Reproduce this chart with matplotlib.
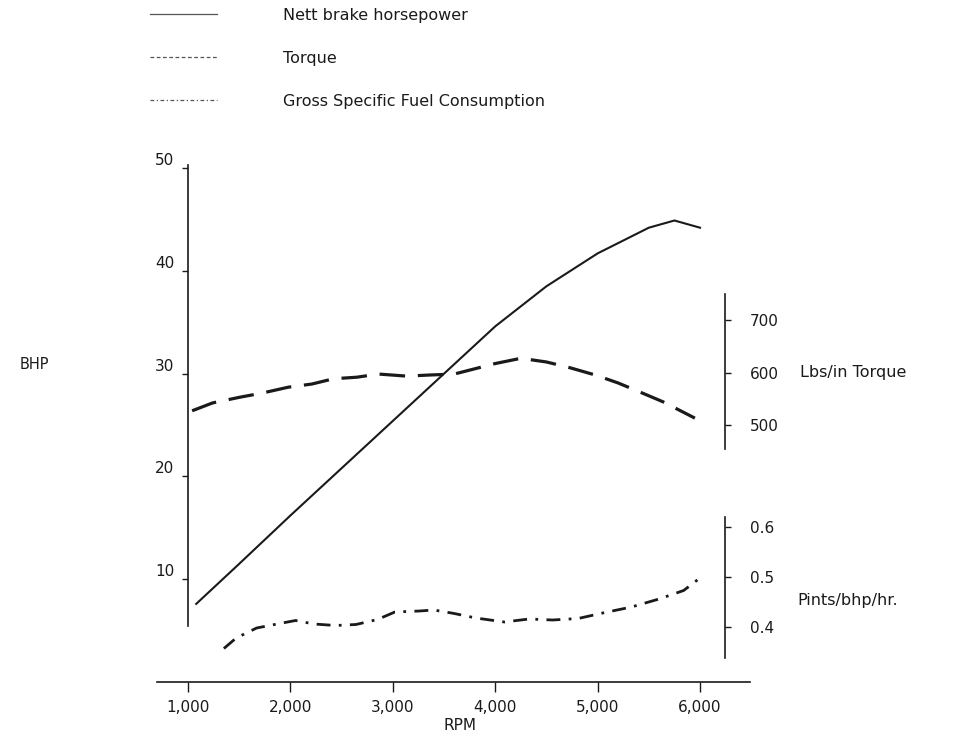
import numpy as np
import matplotlib
matplotlib.use('Agg')
import matplotlib.pyplot as plt
from matplotlib.lines import Line2D

rpm_bhp = [1080, 1500, 2000, 2500, 3000, 3500, 4000, 4500, 5000, 5500, 5750, 6000]
bhp = [7.6, 11.5, 16.2, 20.8, 25.4, 30.0, 34.6, 38.5, 41.7, 44.2, 44.9, 44.2]

rpm_torque = [1040, 1240, 1510, 1730, 1980, 2210, 2420, 2650, 2860, 3140, 3340, 3600, 3800,
              4000, 4250, 4500, 4730, 4980, 5200, 5410, 5640, 5850, 5950]
torque = [528, 543, 554, 562, 573, 579, 589, 592, 598, 594, 596, 598, 608,
          618, 628, 621, 610, 596, 581, 564, 545, 524, 514]

rpm_fuel = [1350, 1470, 1670, 1920, 2050, 2230, 2440, 2640, 2850, 3020, 3260, 3400, 3600,
            3810, 4090, 4330, 4560, 4810, 5050, 5330, 5600, 5840, 5980]
fuel = [0.357, 0.378, 0.398, 0.408, 0.413, 0.406, 0.403, 0.405, 0.415, 0.430, 0.432, 0.434, 0.427,
        0.418, 0.410, 0.416, 0.414, 0.417, 0.428, 0.440, 0.456, 0.473, 0.495]

x_ticks = [1000, 2000, 3000, 4000, 5000, 6000]
x_labels = ['1,000', '2,000', '3,000', '4,000', '5,000', '6,000']
bhp_ticks = [10, 20, 30, 40, 50]
torque_ticks = [500, 600, 700]
fuel_ticks = [0.4, 0.5, 0.6]

W, H = 957, 740
fig = plt.figure(figsize=(W / 100, H / 100), dpi=100)
ax = fig.add_axes([157 / W, 1 - 682 / H, (750 - 157) / W, (682 - 165) / H])
ax_t = ax.twinx()
ax_f = ax.twinx()

spine_x = 6240
ink = '#1a1a1a'

# eje principal (BHP)
ax.set_xlim(697, 6488)
ax.set_ylim(0, 50.3)
ax.spines['top'].set_visible(False)
ax.spines['right'].set_visible(False)
ax.spines['left'].set_position(('data', 1000))
ax.spines['left'].set_bounds(5.4, 50.3)
for s in ['left', 'bottom']:
    ax.spines[s].set_color(ink)
    ax.spines[s].set_linewidth(1.2)
ax.set_xticks(x_ticks)
ax.set_xticklabels(x_labels)
ax.set_yticks(bhp_ticks)
ax.tick_params(axis='x', direction='out', length=7, width=1, pad=6, labelsize=11, colors=ink)
ax.tick_params(axis='y', direction='out', length=4, width=1, pad=6, labelsize=11, colors=ink)
for lab in ax.get_yticklabels():
    lab.set_verticalalignment('bottom')

# eje de par
ax_t.set_ylim(11.4, 996.2)
for s in ['top', 'left', 'bottom']:
    ax_t.spines[s].set_visible(False)
ax_t.spines['right'].set_position(('data', spine_x))
ax_t.spines['right'].set_bounds(456, 751)
ax_t.spines['right'].set_linewidth(1.2)
ax_t.spines['right'].set_color(ink)
ax_t.set_yticks(torque_ticks)
ax_t.tick_params(axis='y', direction='out', length=4, width=1, pad=14, labelsize=11, colors=ink)

# eje de consumo
ax_f.set_ylim(0.29, 1.324)
for s in ['top', 'left', 'bottom']:
    ax_f.spines[s].set_visible(False)
ax_f.spines['right'].set_position(('data', spine_x))
ax_f.spines['right'].set_bounds(0.338, 0.62)
ax_f.spines['right'].set_linewidth(1.2)
ax_f.spines['right'].set_color(ink)
ax_f.set_yticks(fuel_ticks)
ax_f.set_yticklabels(['0.4', '0.5', '0.6'])
ax_f.tick_params(axis='y', direction='out', length=4, width=1, pad=14, labelsize=11, colors=ink)

# curvas
ax.plot(rpm_bhp, bhp, color=ink, lw=1.5)
ax_t.plot(rpm_torque, torque, color=ink, lw=2.3, linestyle=(0, (8, 4)))
ax_f.plot(rpm_fuel, fuel, color=ink, lw=2.0, linestyle=(0, (5, 3, 1, 3)))

# etiquetas
fig.text(20 / W, 1 - 365 / H, 'BHP', fontsize=10.5, color=ink, va='center')
fig.text(800 / W, 1 - 373 / H, 'Lbs/in Torque', fontsize=11.5, color=ink, va='center')
fig.text(797 / W, 1 - 600 / H, 'Pints/bhp/hr.', fontsize=11.5, color=ink, va='center')
fig.text(460 / W, 1 - 726 / H, 'RPM', fontsize=11, color=ink, ha='center', va='center')

# leyenda
handles = [
    Line2D([], [], color='#555555', lw=0.9),
    Line2D([], [], color='#555555', lw=0.9, linestyle=(0, (3, 2))),
    Line2D([], [], color='#555555', lw=0.9, linestyle=(0, (3, 2, 1, 2))),
]
names = ['Nett brake horsepower', 'Torque', 'Gross Specific Fuel Consumption']
fig.legend(handles, names, loc='upper left', bbox_to_anchor=(150 / W, 1 - 8 / H),
           frameon=False, fontsize=11.5, handlelength=4.2, handletextpad=4.1,
           labelspacing=1.75, borderpad=0, borderaxespad=0, labelcolor=ink)

fig.savefig('out.png', dpi=100)
